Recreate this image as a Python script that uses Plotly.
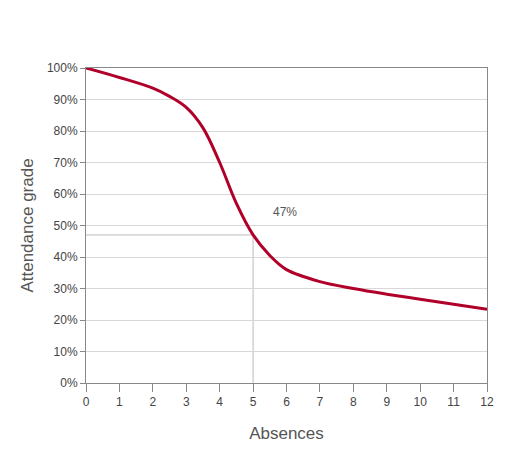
import plotly.graph_objects as go

absences = [0, 1, 2, 2.5, 3, 3.5, 4, 4.5, 5, 5.5, 6, 7, 8, 9, 10, 11, 12]
grade = [100, 97, 93.6, 91, 87.5, 81, 70, 57, 47, 40.5, 36, 32.2, 30, 28.2, 26.6, 25, 23.4]
x_ticks = list(range(13))
y_ticks = list(range(0, 101, 10))
y_labels = [f"{v}%" for v in y_ticks]
mark_x, mark_y = 5, 47

fig = go.Figure()
fig.add_trace(go.Scatter(x=absences, y=grade, mode="lines", line=dict(color="#b0002a", width=3, shape="spline", smoothing=1.0), hoverinfo="skip"))
fig.add_shape(type="line", x0=mark_x, x1=mark_x, y0=0, y1=mark_y, line=dict(color="#bbbbbb", width=1), layer="below")
fig.add_shape(type="line", x0=0, x1=mark_x, y0=mark_y, y1=mark_y, line=dict(color="#bbbbbb", width=1), layer="below")
fig.add_annotation(x=mark_x, y=mark_y, text=f"{mark_y}%", showarrow=False, xanchor="left", yanchor="bottom", xshift=18, yshift=14, font=dict(size=12, color="#555"))

fig.update_layout(
    width=510, height=450, margin=dict(l=78, r=31, t=60, b=75, autoexpand=False),
    plot_bgcolor="white", paper_bgcolor="white", showlegend=False,
    font=dict(family="Liberation Sans, Arial, sans-serif", color="#555"),
    xaxis=dict(range=[0, 12], tickvals=x_ticks, showgrid=False, ticks="outside", ticklen=8, tickcolor="#888", automargin=False,
               showline=True, linecolor="#888", mirror=True, zeroline=False, tickfont=dict(size=12, color="#444"),
               title=dict(text="Absences", font=dict(size=17, color="#555"), standoff=18)),
    yaxis=dict(range=[0, 100], tickvals=y_ticks, ticktext=y_labels, showgrid=True, gridcolor="#d8d8d8", ticks="outside", ticklen=5, tickcolor="#888", automargin=False,
               showline=True, linecolor="#888", mirror=True, zeroline=False, tickfont=dict(size=12, color="#444"),
               title=dict(text="Attendance grade", font=dict(size=17, color="#555"), standoff=8)),
)
fig.write_html("out.html")
